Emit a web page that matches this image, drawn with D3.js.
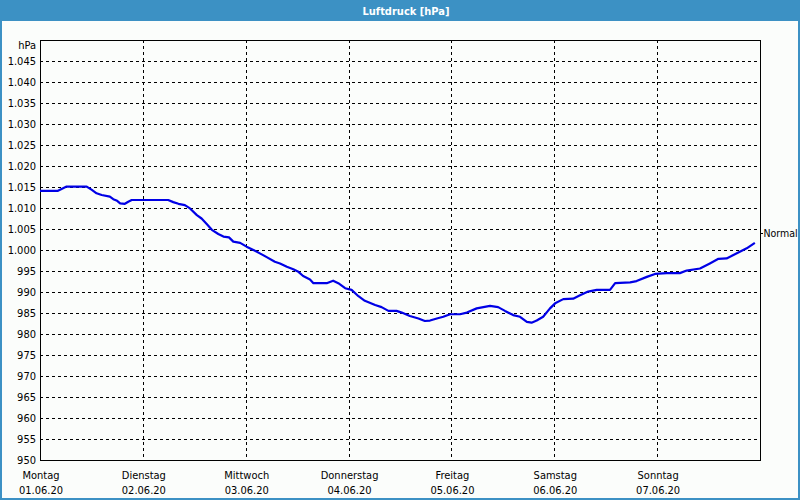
<!DOCTYPE html>
<html>
<head>
<meta charset="utf-8">
<script src="https://cdn.jsdelivr.net/npm/d3@7"></script>
<style>
html,body{margin:0;padding:0;background:#fff;}
svg{display:block;}
text{font-family:"DejaVu Sans Condensed","DejaVu Sans",sans-serif;font-stretch:condensed;font-size:11px;fill:#000;}
</style>
</head>
<body>
<svg id="chart" width="800" height="500"></svg>
<script>
// ---- data ----
const title = "Luftdruck [hPa]";
const unitLabel = "hPa";
const dayNames = ["Montag","Dienstag","Mittwoch","Donnerstag","Freitag","Samstag","Sonntag"];
const dayDates = ["01.06.20","02.06.20","03.06.20","04.06.20","05.06.20","06.06.20","07.06.20"];
const yTickValues = [950,955,960,965,970,975,980,985,990,995,1000,1005,1010,1015,1020,1025,1030,1035,1040,1045];
const yTickLabels = ["950","955","960","965","970","975","980","985","990","995","1.000","1.005","1.010","1.015","1.020","1.025","1.030","1.035","1.040","1.045"];
const normalValue = 1004;
const normalLabel = "Normal";
// hours since 01.06.20 00:00
const hours = [0,4.2,6.2,10.9,12.1,13.2,14.4,16.3,17.1,18.0,18.7,19.8,20.6,21.4,29.9,31.1,32.3,33.8,35.0,36.6,37.7,38.9,40.1,41.6,42.8,44.1,45.1,46.7,48.2,49.8,51.3,52.9,54.8,56.0,57.6,59.1,60.3,61.4,63.0,63.8,66.9,68.4,69.6,71.2,72.7,74.3,75.8,78.2,79.7,81.3,83.2,84.4,86.3,88.3,89.8,91.0,92.6,94.1,95.7,98.0,99.6,101.9,105.0,106.9,108.5,110.4,112.0,113.6,114.7,115.9,117.4,119.0,120.2,122.1,124.4,126.0,127.9,129.9,133.0,134.2,137.7,139.2,141.6,143.5,146.2,149.3,150.9,154.0,156.3,158.3,160.2,162.6,164.9,166.8];
const pressure = [1014.1,1014.1,1015.1,1015.1,1014.3,1013.5,1013.1,1012.7,1012.1,1011.7,1011.1,1011.0,1011.5,1011.9,1011.9,1011.4,1011.0,1010.7,1009.9,1008.3,1007.5,1006.2,1004.8,1003.8,1003.2,1003.0,1002.0,1001.7,1000.8,1000.0,999.2,998.3,997.2,996.8,996.0,995.4,994.8,993.8,993.0,992.1,992.1,992.7,992.1,990.9,990.5,989.0,987.9,986.9,986.4,985.5,985.5,985.1,984.3,983.7,983.1,983.2,983.7,984.1,984.7,984.7,985.1,986.1,986.7,986.4,985.5,984.5,984.1,982.9,982.7,983.2,984.1,986.1,987.3,988.3,988.4,989.2,990.1,990.5,990.5,992.1,992.3,992.6,993.6,994.3,994.5,994.5,995.1,995.6,996.8,997.9,998.0,999.2,1000.4,1001.7];

// ---- layout ----
const W = 800, H = 500;
const plot = {left: 40, right: 760, top: 40, bottom: 460};
const blue = "#3c91c4";

const svg = d3.select("#chart");

// outer frame
svg.append("rect").attr("x",0).attr("y",0).attr("width",W).attr("height",H).attr("fill",blue);
svg.append("rect").attr("x",2).attr("y",21).attr("width",W-4).attr("height",H-23).attr("fill","#fbfdfb");

svg.append("text").attr("x",406).attr("y",15).attr("text-anchor","middle")
  .style("font-weight","bold").style("fill","#fff").style("font-size","11px").text(title);

const x = d3.scaleLinear().domain([0,168]).range([plot.left, plot.right]);
const y = d3.scaleLinear().domain([950,1050]).range([plot.bottom, plot.top]);

// horizontal grid
const g = svg.append("g");
g.selectAll("line.hg").data(yTickValues.filter(v => v > 950)).enter().append("line")
  .attr("x1",plot.left).attr("x2",plot.right)
  .attr("y1",d => Math.round(y(d))+0.5).attr("y2",d => Math.round(y(d))+0.5)
  .attr("stroke","#000").attr("stroke-width",1).attr("stroke-dasharray","3,3")
  .attr("shape-rendering","crispEdges");
// vertical grid
g.selectAll("line.vg").data(d3.range(1,7)).enter().append("line")
  .attr("x1",d => Math.round(x(d*24))+0.5).attr("x2",d => Math.round(x(d*24))+0.5)
  .attr("y1",plot.top).attr("y2",plot.bottom)
  .attr("stroke","#000").attr("stroke-width",1).attr("stroke-dasharray","3,3")
  .attr("shape-rendering","crispEdges");

// frame of plot
svg.append("rect").attr("x",plot.left+0.5).attr("y",plot.top+0.5)
  .attr("width",plot.right-plot.left).attr("height",plot.bottom-plot.top)
  .attr("fill","none").attr("stroke","#000").attr("stroke-width",1)
  .attr("shape-rendering","crispEdges");

// y axis labels via d3 axis
const yAxis = d3.axisLeft(y).tickValues(yTickValues)
  .tickFormat((d,i) => yTickLabels[i]).tickSize(0).tickPadding(4);
const ya = svg.append("g").attr("transform",`translate(${plot.left},0)`).call(yAxis);
ya.select(".domain").remove();
ya.selectAll("text").style("font-size","11px").attr("fill","#000");
ya.attr("font-family",null).attr("font-size",null);

svg.append("text").attr("x",36).attr("y",49).attr("text-anchor","end").text(unitLabel);

// x axis labels
const xa = svg.append("g");
const dayIdx = d3.range(dayNames.length);
xa.selectAll("text.day").data(dayIdx).enter().append("text")
  .attr("x",d => x(d*24)+1).attr("y",479).attr("text-anchor","middle").text(d => dayNames[d]);
xa.selectAll("text.date").data(dayIdx).enter().append("text")
  .attr("x",d => x(d*24)+1).attr("y",494).attr("text-anchor","middle").text(d => dayDates[d]);

// normal marker
svg.append("line").attr("x1",plot.right).attr("x2",plot.right+3)
  .attr("y1",Math.round(y(normalValue))+0.5).attr("y2",Math.round(y(normalValue))+0.5)
  .attr("stroke","#000").attr("shape-rendering","crispEdges");
svg.append("text").attr("x",plot.right+3.5).attr("y",y(normalValue)+4)
  .style("font-size","10.5px").text(normalLabel);

// line
const line = d3.line().x((d,i) => x(hours[i])).y(d => y(d));
svg.append("path").datum(pressure).attr("d",line)
  .attr("fill","none").attr("stroke","#0000e6").attr("stroke-width",2.2)
  .attr("stroke-linejoin","round");
</script>
</body>
</html>
